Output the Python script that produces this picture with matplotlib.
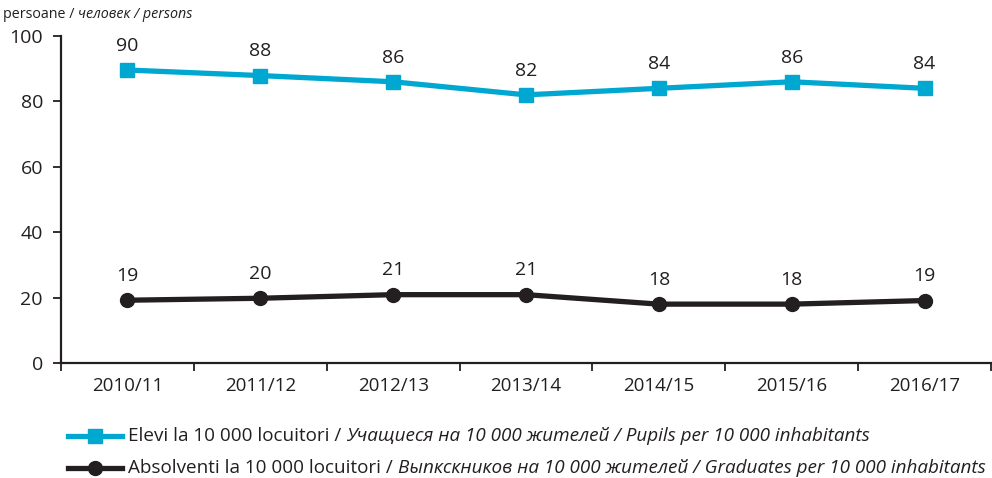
import matplotlib
matplotlib.use("Agg")
import matplotlib.pyplot as plt
from matplotlib.lines import Line2D

categories = ["2010/11", "2011/12", "2012/13", "2013/14", "2014/15", "2015/16", "2016/17"]
pupils = [89.6, 87.9, 86.0, 82.0, 84.0, 86.0, 84.0]
pupils_labels = ["90", "88", "86", "82", "84", "86", "84"]
graduates = [19.2, 19.8, 20.9, 20.9, 18.0, 18.0, 19.1]
graduates_labels = ["19", "20", "21", "21", "18", "18", "19"]
yticks = [0, 20, 40, 60, 80, 100]

legend1 = [("Elevi la 10 000 locuitori / ", "normal"), ("Учащиеся на 10 000 жителей / Pupils per 10 000 inhabitants", "italic")]
legend2 = [("Absolventi la 10 000 locuitori / ", "normal"), ("Выпкскников на 10 000 жителей / Graduates per 10 000 inhabitants", "italic")]
unit = [("persoane / ", "normal"), ("человек / persons", "italic")]

CYAN = "#00a8d1"
DARK = "#231f20"
FONT = ["Open Sans", "DejaVu Sans"]
plt.rcParams['font.family'] = FONT

W, H = 992, 478
fig = plt.figure(figsize=(W / 100, H / 100), dpi=100)
ax = fig.add_axes([61 / W, 1 - 363 / H, (991 - 61) / W, (363 - 36) / H])

x = list(range(len(categories)))
ax.plot(x, pupils, color=CYAN, lw=3.8, marker="s", ms=10, solid_joinstyle="miter")
ax.plot(x, graduates, color=DARK, lw=3.8, marker="o", ms=10)
for xi, v, t in zip(x, pupils, pupils_labels):
    ax.annotate(t, (xi, v), xytext=(0, 11), textcoords="offset points", ha="center", va="bottom",
                fontsize=14, color=DARK)
for xi, v, t in zip(x, graduates, graduates_labels):
    ax.annotate(t, (xi, v), xytext=(0, 11), textcoords="offset points", ha="center", va="bottom",
                fontsize=14, color=DARK)

ax.set_xlim(-0.5, len(categories) - 0.5)
ax.set_ylim(0, 100)
ax.set_yticks(yticks)
ax.set_xticks([i - 0.5 for i in range(len(categories) + 1)], minor=False)
ax.set_xticklabels([])
ax.set_xticks(x, minor=True)
ax.set_xticklabels(categories, minor=True)
ax.tick_params(axis="x", which="major", length=6, width=1.3, color=DARK, direction="out")
ax.tick_params(axis="x", which="minor", length=0, pad=10, labelsize=13.5, labelcolor=DARK)
ax.tick_params(axis="y", length=6, width=1.3, color=DARK, labelsize=14, labelcolor=DARK, pad=7)
for s in ["top", "right"]:
    ax.spines[s].set_visible(False)
for s in ["left", "bottom"]:
    ax.spines[s].set_color(DARK)
    ax.spines[s].set_linewidth(1.6)

fig.canvas.draw()
renderer = fig.canvas.get_renderer()

def rich(xpx, ypx, parts, size):
    cur = xpx
    for txt, style in parts:
        t = fig.text(cur / W, 1 - ypx / H, txt, fontsize=size, style=style, color=DARK,
                     va="center", ha="left")
        bb = t.get_window_extent(renderer)
        cur += bb.width

rich(3, 15, unit, 10.3)

# legend
for ypx, col, mk, parts in [(436, CYAN, "s", legend1), (468, DARK, "o", legend2)]:
    fig.add_artist(Line2D([68 / W, 122 / W], [1 - ypx / H] * 2, transform=fig.transFigure,
                          color=col, lw=3.8, marker=None))
    fig.add_artist(Line2D([95 / W], [1 - ypx / H], transform=fig.transFigure,
                          color=col, marker=mk, ms=10, lw=0))
    rich(128, ypx, parts, 13.6)

fig.savefig("out.png", dpi=100)
